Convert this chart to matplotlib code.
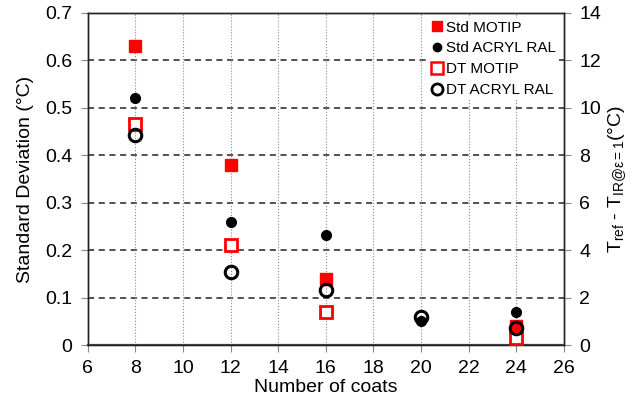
import numpy as np
import matplotlib
matplotlib.use('Agg')
import matplotlib.pyplot as plt
from matplotlib.lines import Line2D

plt.rcParams['font.family'] = ['Liberation Sans', 'DejaVu Sans']
plt.rcParams['mathtext.fontset'] = 'custom'
plt.rcParams['mathtext.rm'] = 'Liberation Sans'
plt.rcParams['mathtext.it'] = 'Liberation Sans:italic'

# data
coats = [8, 12, 16, 20, 24]
std_motip_x = [8, 12, 16, 24]
std_motip = [0.63, 0.38, 0.14, 0.04]
std_acryl = [0.52, 0.26, 0.231, 0.05, 0.07]
dt_motip_x = [8, 12, 16, 24]
dt_motip = [9.3, 4.2, 1.4, 0.3]
dt_acryl = [8.86, 3.1, 2.32, 1.2, 0.72]

fig = plt.figure(figsize=(6.32, 4.05), dpi=100)
ax = fig.add_axes([0.139, 0.148, 0.753, 0.82])
ax2 = ax.twinx()

ax.plot(std_motip_x, std_motip, 's', color='red', ms=9, mec='red', zorder=3)
ax.plot(coats, std_acryl, 'o', color='black', ms=7, zorder=3)
ax2.plot(dt_motip_x, dt_motip, 's', mfc='white', mec='red', mew=2, ms=9, zorder=3)
ax2.plot(coats, dt_acryl, 'o', mfc='none', mec='black', mew=2.2, ms=9, zorder=4)

ax.set_xlim(6, 26)
ax.set_ylim(0, 0.7)
ax2.set_ylim(0, 14)
ax.set_xticks(np.arange(6, 27, 2))
ax.set_yticks(np.arange(0, 0.71, 0.1))
ax.set_yticklabels(['0', '0.1', '0.2', '0.3', '0.4', '0.5', '0.6', '0.7'])
ax2.set_yticks(np.arange(0, 15, 2))

for y in np.arange(0.1, 0.65, 0.1):
    ax.axhline(y, color='#222222', ls=(0, (4, 3)), lw=1.1, zorder=1)
for x in np.arange(8, 26, 2):
    ax.axvline(x, color='#888888', ls=':', lw=0.8, zorder=1)

for a in (ax, ax2):
    a.tick_params(labelsize=14, length=5, width=0.8, color='#888888',
                  direction='out', pad=6)
    for s in a.spines.values():
        s.set_color('#222222')
        s.set_linewidth(1.0)
ax.spines['bottom'].set_linewidth(1.6)
ax.spines['bottom'].set_color('#444444')

ax.set_xlabel('Number of coats', fontsize=14, labelpad=1)
ax.set_ylabel('Standard Deviation (°C)', fontsize=14, labelpad=8)
ax2.set_ylabel(r'T$_{\rm ref}$ - T$_{\rm IR@\epsilon=1}$(°C)', fontsize=14, labelpad=4)

handles = [
    Line2D([], [], ls='', marker='s', color='red', ms=7),
    Line2D([], [], ls='', marker='o', color='black', ms=6),
    Line2D([], [], ls='', marker='s', mfc='white', mec='red', mew=1.8, ms=8),
    Line2D([], [], ls='', marker='o', mfc='white', mec='black', mew=2, ms=8),
]
labels = ['Std MOTIP', 'Std ACRYL RAL', 'DT MOTIP', 'DT ACRYL RAL']
leg = ax2.legend(handles, labels, loc='upper right', fontsize=11, frameon=True,
                 edgecolor='none', facecolor='white', framealpha=1,
                 handlelength=0.6, handletextpad=0.3, labelspacing=0.45,
                 borderaxespad=0.3, borderpad=0.2)
leg.set_zorder(10)

fig.savefig('out.png', dpi=100)
